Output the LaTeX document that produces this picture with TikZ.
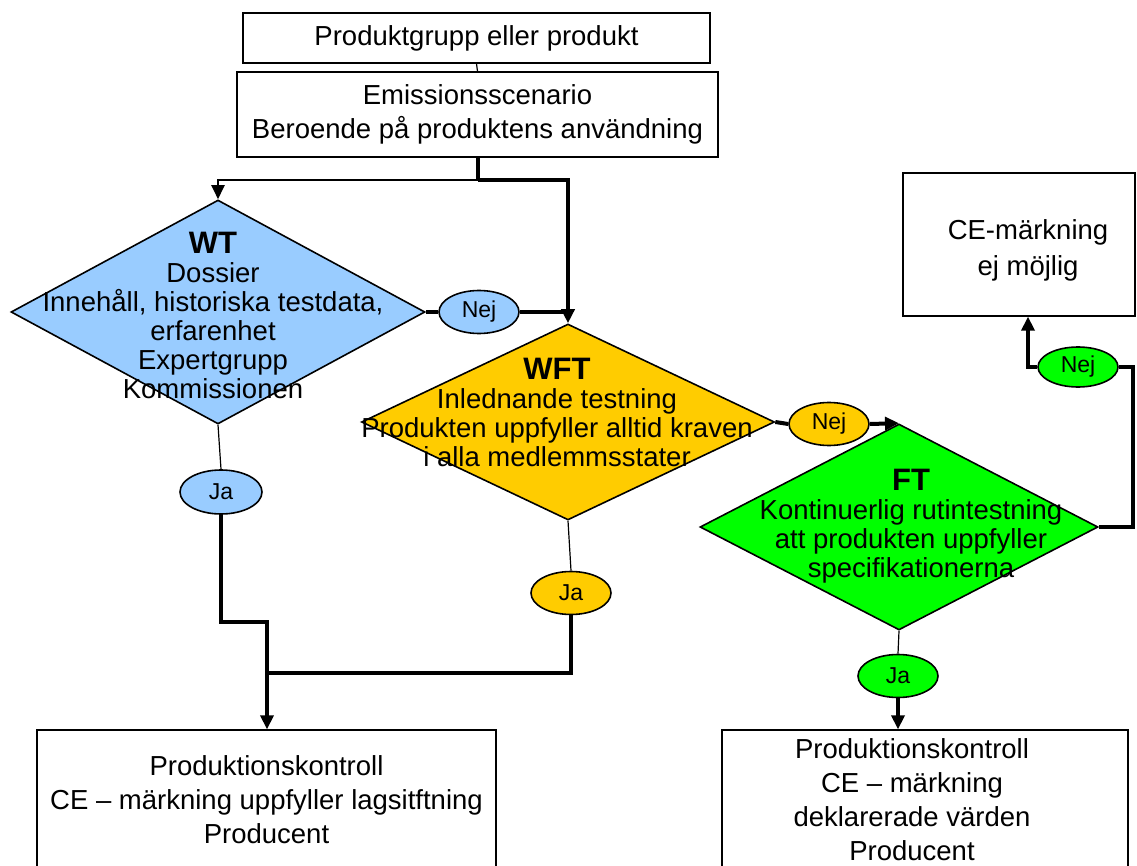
\documentclass[tikz,border=0pt]{standalone}
\usepackage{fontspec}
\setmainfont{Liberation Sans}
\usetikzlibrary{shapes.geometric,arrows.meta}
\definecolor{wtblue}{HTML}{99CCFF}
\definecolor{wftorange}{HTML}{FFCC00}
\definecolor{ftgreen}{HTML}{00FF00}
\begin{document}
\begin{tikzpicture}[x=1pt,y=-1pt,
  box/.style={draw, line width=1.3pt, align=center, inner sep=0, font=\fontsize{27.5}{34}\selectfont},
  btext/.style={align=center, inner sep=0, font=\fontsize{27.5}{34}\selectfont},
  dia/.style={diamond, draw, line width=1.6pt, inner sep=0},
  dtext/.style={align=center, inner sep=0, font=\fontsize{27.5}{29}\selectfont},
  lab/.style={ellipse, draw, line width=1.6pt, inner sep=0, minimum width=80, minimum height=43, font=\fontsize{23}{23}\selectfont},
  thinline/.style={line width=1.2pt},
  medline/.style={line width=2.5pt},
  thickline/.style={line width=4pt},
  arr/.style={-{Triangle[length=14pt,width=13pt]}}
]
\useasboundingbox (0,0) rectangle (1137,866);
\fill[white] (0,0) rectangle (1137,866);
\clip (0,0) rectangle (1137,866);

% boxes
\node[box, minimum width=467, minimum height=50] (b1) at (476.5,38) {Produktgrupp eller produkt};
\node[box, minimum width=481, minimum height=85] (b2) at (477.5,114.5) {Emissionsscenario\\Beroende på produktens användning};
\node[box, minimum width=232, minimum height=143] (ce) at (1019,244.5) {};
\node[btext, font=\fontsize{27.5}{36}\selectfont] (ceT) at (1028,250) {CE-märkning\\ej möjlig};
\node[box, minimum width=459, minimum height=140] (pl) at (266.5,800) {Produktionskontroll\\CE – märkning uppfyller lagsitftning\\Producent};
\node[box, minimum width=406, minimum height=140] (pr) at (925,800) {};
\node[btext] (prT) at (912,800) {Produktionskontroll\\CE – märkning\\deklarerade värden\\Producent};

% diamonds
\node[dia, fill=wtblue, minimum width=414, minimum height=224] (wt) at (218,312) {};
\node[dtext] (wtT) at (213,315) {{\fontsize{31}{29}\selectfont\bfseries WT}\\Dossier\\Innehåll, historiska testdata,\\erfarenhet\\Expertgrupp\\Kommissionen};
\node[dia, fill=wftorange, minimum width=413, minimum height=196] (wft) at (568,422) {};
\node[dtext] (wftT) at (557,412) {{\fontsize{31}{29}\selectfont\bfseries WFT}\\Inlednande testning\\Produkten uppfyller alltid kraven\\i alla medlemmsstater};
\node[dia, fill=ftgreen, minimum width=398, minimum height=206] (ft) at (899,527) {};
\node[dtext] (ftT) at (911,526) {{\fontsize{31}{29}\selectfont\bfseries FT}\\Kontinuerlig rutintestning\\att produkten uppfyller\\specifikationerna};

% labels
\node[lab, fill=wtblue] (nejB) at (479,312) {Nej};
\node[lab, fill=wftorange] (nejO) at (829,424) {Nej};
\node[lab, fill=ftgreen, minimum height=40] (nejG) at (1078,367) {Nej};
\node[lab, fill=wtblue, minimum width=82, minimum height=44] (jaB) at (221,492) {Ja};
\node[lab, fill=wftorange] (jaO) at (571,593) {Ja};
\node[lab, fill=ftgreen] (jaG) at (898,676) {Ja};

% connectors
\draw[thinline] (b1.south) -- (b2.north);
\coordinate (j1) at (477.5,180);
\draw[thickline] (b2.south) -- (j1);
\draw[thickline, arr] (j1) -| (wft.north);
\draw[medline, arr] (j1) -| (wt.north);

\draw[thickline] (wt.east) -- (nejB.west);
\draw[thickline] (nejB.east) -- (nejB.east -| wft.north);

\draw[thickline] (wft.east) -- (nejO.west);
\draw[thickline, arr] (nejO.east) -- (ft.north);

\coordinate (rt) at (1133,367);
\draw[thickline] (ft.east) -| (rt) -- (nejG.east);
\draw[thickline, arr] (nejG.west) -| ([xshift=9pt]ce.south);

\draw[thinline] (ft.south) -- (jaG.north);
\draw[thickline, arr] (jaG.south) -- (jaG.south |- pr.north);

\draw[thinline] (wt.south) -- (jaB.north);
\coordinate (bl) at (267,622);
\draw[thickline, arr] (jaB.south) |- (bl) -- (bl |- pl.north);
\draw[thinline] (wft.south) -- (jaO.north);
\coordinate (jm) at (267,673);
\draw[thickline] (jaO.south) |- (jm);
\end{tikzpicture}
\end{document}
